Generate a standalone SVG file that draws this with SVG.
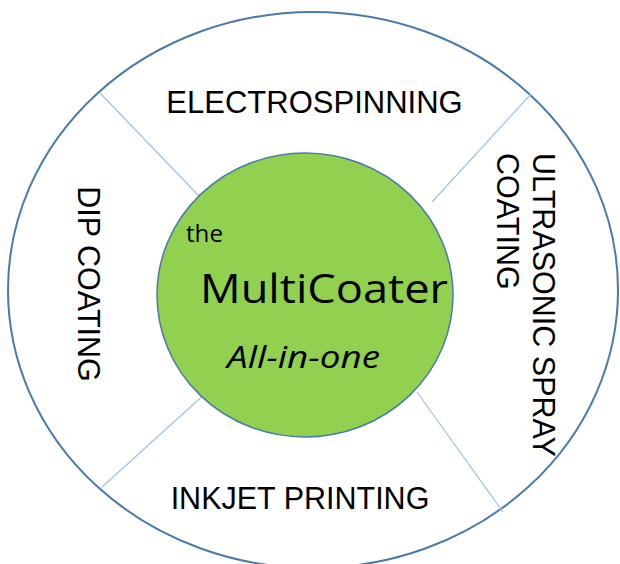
<svg xmlns="http://www.w3.org/2000/svg" width="620" height="564" viewBox="0 0 620 564">
<style>
.lbl{font-family:"Liberation Sans",Arial,sans-serif;font-size:30.5px;fill:#000}
.ctr{font-family:"Open Sans","Noto Sans",sans-serif;fill:#000}
.div{stroke:#9dc3e6;stroke-width:1.2;fill:none}
</style>
<rect width="620" height="564" fill="#fff"/>
<g id="outer">
<ellipse cx="313" cy="290" rx="305" ry="278" fill="#fff" stroke="#4a7aa8" stroke-width="2"/>
</g>
<g id="connectors">
<line class="div" x1="100" y1="93" x2="199" y2="196"/>
<line class="div" x1="531" y1="94" x2="432" y2="202"/>
<line class="div" x1="102" y1="487" x2="207" y2="392"/>
<line class="div" x1="503" y1="512" x2="417" y2="392"/>
</g>
<g id="center">
<ellipse cx="305" cy="295" rx="148" ry="142" fill="#92d050" stroke="#4a7aa8" stroke-width="1.5"/>
<text class="ctr" x="186" y="242" font-size="23" textLength="37" lengthAdjust="spacingAndGlyphs">the</text>
<text class="ctr" x="200" y="303" font-size="40" textLength="248" lengthAdjust="spacingAndGlyphs">MultiCoater</text>
<text class="ctr" x="227" y="368" font-size="31" font-style="italic" textLength="153" lengthAdjust="spacingAndGlyphs">All-in-one</text>
</g>
<g id="electrospinning">
<text class="lbl" x="314.5" y="113" text-anchor="middle" style="font-size:31px">ELECTROSPINNING</text>
</g>
<g id="inkjet">
<text class="lbl" x="300" y="509" text-anchor="middle">INKJET PRINTING</text>
</g>
<g id="dip">
<text class="lbl" transform="translate(78,284) rotate(90)" x="0" y="0" text-anchor="middle">DIP COATING</text>
</g>
<g id="ultrasonic">
<text class="lbl" transform="translate(533,153) rotate(90)" x="0" y="0">ULTRASONIC SPRAY</text>
<text class="lbl" transform="translate(497,153) rotate(90)" x="0" y="0">COATING</text>
</g>
</svg>
